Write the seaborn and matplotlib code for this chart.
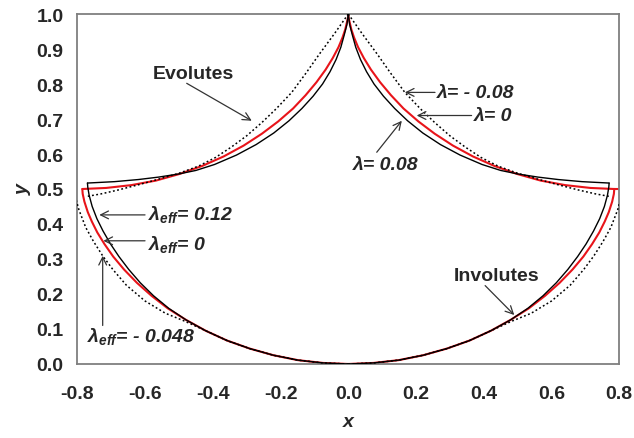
import numpy as np
import pandas as pd
import matplotlib
matplotlib.use("Agg")
import matplotlib.pyplot as plt
import seaborn as sns

sns.set_theme(style="white")
plt.rcParams["font.family"] = ["Liberation Sans", "DejaVu Sans"]
plt.rcParams["axes.unicode_minus"] = False
plt.rcParams["mathtext.fontset"] = "custom"
plt.rcParams["mathtext.it"] = "Liberation Sans:italic:bold"
plt.rcParams["mathtext.rm"] = "Liberation Sans:bold"
plt.rcParams["mathtext.bf"] = "Liberation Sans:bold"

# ---- curve data (right half, x >= 0; the left half is the mirror image) ----
# Evolutes
evo_l0_x = [0.000, 0.001, 0.009, 0.017, 0.029, 0.046, 0.067, 0.094, 0.126, 0.163,
            0.207, 0.255, 0.309, 0.368, 0.431, 0.498, 0.568, 0.641, 0.715, 0.785]
evo_l0_y = [1.000, 0.989, 0.956, 0.933, 0.905, 0.874, 0.841, 0.805, 0.768, 0.730,
            0.693, 0.658, 0.624, 0.593, 0.566, 0.543, 0.524, 0.511, 0.503, 0.500]
evo_l0_tail_x = [0.785, 0.800]          # red evolute runs on to the frame on the right
evo_l0_tail_y = [0.500, 0.500]

evo_p08_x = [0.000, 0.004, 0.012, 0.022, 0.036, 0.054, 0.076, 0.104, 0.137, 0.175,
             0.220, 0.272, 0.330, 0.395, 0.450, 0.500, 0.560, 0.620, 0.690, 0.770]
evo_p08_y = [1.000, 0.970, 0.940, 0.905, 0.870, 0.835, 0.800, 0.765, 0.730, 0.695,
             0.660, 0.627, 0.597, 0.570, 0.553, 0.543, 0.534, 0.527, 0.521, 0.517]

evo_m08_x = [0.000, 0.040, 0.085, 0.125, 0.167, 0.212, 0.255, 0.300, 0.345, 0.392,
             0.443, 0.500, 0.560, 0.620, 0.680, 0.730, 0.770]
evo_m08_y = [1.000, 0.945, 0.886, 0.831, 0.776, 0.730, 0.690, 0.652, 0.620, 0.590,
             0.565, 0.545, 0.528, 0.512, 0.497, 0.486, 0.479]

# Involutes
inv_l0_x = [0.000, 0.075, 0.149, 0.221, 0.291, 0.358, 0.421, 0.479, 0.533, 0.581,
            0.624, 0.662, 0.694, 0.720, 0.741, 0.757, 0.769, 0.779, 0.784, 0.785, 0.785]
inv_l0_y = [0.000, 0.003, 0.011, 0.025, 0.044, 0.067, 0.095, 0.126, 0.159, 0.195,
            0.232, 0.270, 0.307, 0.343, 0.376, 0.407, 0.434, 0.464, 0.486, 0.498, 0.500]

inv_p12_x = [0.000, 0.075, 0.149, 0.221, 0.291, 0.358, 0.421, 0.479, 0.530, 0.575,
             0.614, 0.648, 0.677, 0.702, 0.724, 0.742, 0.756, 0.765, 0.769, 0.770]
inv_p12_y = [0.000, 0.003, 0.011, 0.025, 0.044, 0.067, 0.095, 0.126, 0.159, 0.195,
             0.232, 0.270, 0.307, 0.343, 0.380, 0.415, 0.450, 0.482, 0.505, 0.517]

inv_m048_x = [0.000, 0.075, 0.149, 0.221, 0.291, 0.358, 0.421, 0.482, 0.540, 0.600,
              0.655, 0.695, 0.725, 0.752, 0.775, 0.795, 0.805, 0.810]
inv_m048_y = [0.000, 0.003, 0.011, 0.025, 0.044, 0.067, 0.095, 0.122, 0.145, 0.180,
              0.225, 0.270, 0.309, 0.350, 0.390, 0.440, 0.475, 0.500]

x_ticks = [-0.8, -0.6, -0.4, -0.2, 0.0, 0.2, 0.4, 0.6, 0.8]
y_ticks = [0.0, 0.1, 0.2, 0.3, 0.4, 0.5, 0.6, 0.7, 0.8, 0.9, 1.0]

RED = "#e8141a"
GREY = "#7f7f7f"

fig = plt.figure(figsize=(6.34, 4.39), dpi=100)
ax = fig.add_axes([0.1219, 0.1686, 0.8549, 0.7972])


def draw(xs, ys, color, lw, ls, z, mirror=True):
    signs = [1, -1] if mirror else [1]
    for s in signs:
        df = pd.DataFrame({"x": [s * v for v in xs], "y": ys})
        sns.lineplot(data=df, x="x", y="y", sort=False, estimator=None,
                     color=color, lw=lw, linestyle=ls, ax=ax, zorder=z)


dotted = (0, (1.2, 1.6))
draw(evo_l0_x, evo_l0_y, RED, 1.5, "-", 2)
draw(evo_l0_tail_x, evo_l0_tail_y, RED, 1.5, "-", 2, mirror=False)
draw(inv_l0_x, inv_l0_y, RED, 1.5, "-", 2)
draw(evo_m08_x, evo_m08_y, "black", 1.1, dotted, 3)
draw(inv_m048_x, inv_m048_y, "black", 1.1, dotted, 3)
draw(evo_p08_x, evo_p08_y, "black", 1.0, "-", 3)
draw(inv_p12_x, inv_p12_y, "black", 1.0, "-", 3)

ax.set_xlim(-0.8, 0.8)
ax.set_ylim(0.0, 1.0)
ax.set_xticks(x_ticks)
ax.set_yticks(y_ticks)
ax.set_xticklabels([f"{v:.1f}" for v in x_ticks])
ax.set_yticklabels([f"{v:.1f}" for v in y_ticks])
ax.set_xticks(np.arange(-0.8, 0.801, 0.05), minor=True)
ax.set_yticks(np.arange(0.0, 1.001, 0.02), minor=True)
ax.tick_params(which="major", direction="out", length=5, width=1.0, color=GREY,
               labelsize=14, pad=5)
ax.tick_params(which="minor", direction="in", length=3, width=0.8, color=GREY)
ax.tick_params(axis="x", which="major", pad=10)
for lab in ax.get_xticklabels() + ax.get_yticklabels():
    lab.set_fontweight("bold")
for sp in ax.spines.values():
    sp.set_color(GREY)
    sp.set_linewidth(1.3)
ax.set_xlabel("x", fontsize=14, fontweight="bold", fontstyle="italic", labelpad=8)
ax.set_ylabel("y", fontsize=14, fontweight="bold", fontstyle="italic", labelpad=3)
ax.grid(False)

arrow = dict(arrowstyle="->", color="#333333", lw=0.9, shrinkA=0, shrinkB=0,
             mutation_scale=14)
tk = dict(fontsize=14, fontweight="bold")
tki = dict(fontsize=14, fontweight="bold", fontstyle="italic")

ax.text(-0.458, 0.83, "Evolutes", ha="center", va="center", **tk)
ax.annotate("", xy=(-0.285, 0.695), xytext=(-0.477, 0.802), arrowprops=arrow)

ax.text(0.437, 0.254, "Involutes", ha="center", va="center", **tk)
ax.annotate("", xy=(0.49, 0.14), xytext=(0.404, 0.224), arrowprops=arrow)

ax.text(0.262, 0.776, "λ= - 0.08", ha="left", va="center", **tki)
ax.annotate("", xy=(0.167, 0.776), xytext=(0.256, 0.776), arrowprops=arrow)

ax.text(0.370, 0.711, "λ= 0", ha="left", va="center", **tki)
ax.annotate("", xy=(0.202, 0.710), xytext=(0.364, 0.710), arrowprops=arrow)

ax.text(0.015, 0.569, "λ= 0.08", ha="left", va="center", **tki)
ax.annotate("", xy=(0.158, 0.695), xytext=(0.084, 0.605), arrowprops=arrow)

ax.text(-0.592, 0.430, r"$λ_{eff}$= 0.12", ha="left", va="center", **tki)
ax.annotate("", xy=(-0.735, 0.426), xytext=(-0.600, 0.426), arrowprops=arrow)

ax.text(-0.592, 0.345, r"$λ_{eff}$= 0", ha="left", va="center", **tki)
ax.annotate("", xy=(-0.723, 0.352), xytext=(-0.600, 0.352), arrowprops=arrow)

ax.text(-0.770, 0.080, r"$λ_{eff}$= - 0.048", ha="left", va="center", **tki)
ax.annotate("", xy=(-0.725, 0.309), xytext=(-0.725, 0.110), arrowprops=arrow)

fig.savefig("out.png", dpi=100)
